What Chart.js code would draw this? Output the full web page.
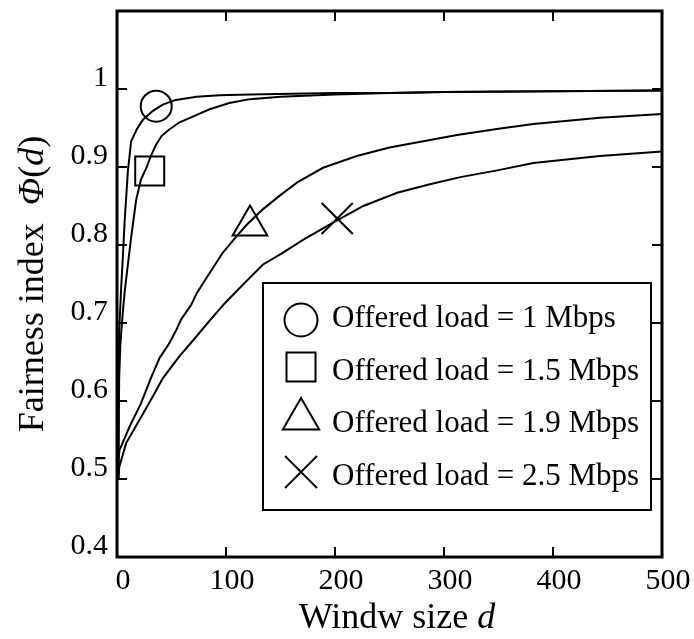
<!DOCTYPE html>
<html>
<head>
    <title>Fairness index vs window size</title>
    <script src="https://cdn.jsdelivr.net/npm/chart.js"></script>
    <style>
        body {
            margin: 0;
            background: #fff;
        }
        .chart-container {
            width: 694px;
            height: 639px;
        }
    </style>
</head>
<body>

    <div class="chart-container">
        <canvas id="fairnessChart" width="694" height="639"></canvas>
    </div>

    <script>
        // offered loads (Mbps), one curve each
        const loads = ['1', '1.5', '1.9', '2.5'];

        // window size d and fairness index for each load
        const d1 = [1, 1.5, 2, 3, 4, 5, 7, 10, 13, 18, 24, 33, 42, 54, 73, 94, 122, 160, 200, 250, 300, 400, 500];
        const phi1 = [0.5, 0.62, 0.69, 0.72, 0.75, 0.775, 0.83, 0.895, 0.933, 0.948, 0.961, 0.972, 0.98, 0.986, 0.99, 0.992, 0.993, 0.994, 0.995, 0.995, 0.996, 0.997, 0.998];

        const d15 = [1, 2, 3, 4, 5.3, 7, 10, 13, 17.6, 22, 27, 31, 36, 41, 48, 57, 70, 85, 103, 122, 150, 200, 250, 300, 400, 500];
        const phi15 = [0.5, 0.63, 0.67, 0.69, 0.713, 0.74, 0.775, 0.81, 0.858, 0.884, 0.899, 0.914, 0.929, 0.94, 0.948, 0.957, 0.965, 0.974, 0.982, 0.987, 0.99, 0.993, 0.995, 0.996, 0.997, 0.998];

        const d19 = [1, 2.3, 11.5, 22, 31, 39, 48, 54, 59, 68, 73, 85, 97, 109, 119, 134, 149, 165, 189, 220, 250, 281, 312, 350, 382, 443, 500];
        const phi19 = [0.52, 0.537, 0.567, 0.597, 0.629, 0.655, 0.674, 0.69, 0.705, 0.723, 0.738, 0.764, 0.79, 0.81, 0.826, 0.846, 0.863, 0.88, 0.899, 0.914, 0.925, 0.933, 0.941, 0.949, 0.955, 0.963, 0.968];

        const d25 = [1, 2, 8.4, 20.7, 33, 42, 57, 73, 85, 100, 119, 134, 152, 171, 195, 226, 257, 287, 315, 350, 382, 443, 500];
        const phi25 = [0.50, 0.515, 0.546, 0.576, 0.606, 0.629, 0.657, 0.683, 0.703, 0.727, 0.754, 0.775, 0.790, 0.807, 0.826, 0.850, 0.867, 0.878, 0.887, 0.896, 0.905, 0.914, 0.92];

        // one marker sits on each curve
        const markerD = [36, 30, 122, 202];
        const markerPhi = [0.978, 0.895, 0.825, 0.834];
        const markerStyles = ['circle', 'rect', 'triangle', 'crossRot'];
        const markerRadii = [15.5, 20.5, 20, 22];

        // tick values
        const xTicks = [0, 100, 200, 300, 400, 500];
        const yTicks = [0.4, 0.5, 0.6, 0.7, 0.8, 0.9, 1];

        const serif = "'Liberation Serif', 'Times New Roman', serif";

        const toPoints = (xs, ys) => xs.map((x, i) => ({ x: x, y: ys[i] }));
        const curves = [[d1, phi1], [d15, phi15], [d19, phi19], [d25, phi25]];

        const datasets = curves.map((c, i) => ({
            type: 'line',
            label: 'Offered load = ' + loads[i] + ' Mbps',
            data: toPoints(c[0], c[1]),
            borderColor: '#000',
            borderWidth: 2,
            pointRadius: 0,
            tension: 0
        }));

        markerD.forEach((d, i) => {
            datasets.push({
                type: 'scatter',
                label: 'marker ' + loads[i],
                data: [{ x: d, y: markerPhi[i] }],
                pointStyle: markerStyles[i],
                pointRadius: markerRadii[i],
                pointBorderColor: '#000',
                pointBackgroundColor: 'rgba(0,0,0,0)',
                pointBorderWidth: 2,
                clip: false
            });
        });

        // frame, inward ticks on all four sides, axis titles, legend box
        const decorations = {
            id: 'decorations',
            afterDatasetsDraw(chart) {
                const ctx = chart.ctx;
                const a = chart.chartArea;
                const xs = chart.scales.x;
                const ys = chart.scales.y;
                ctx.save();
                ctx.strokeStyle = '#000';

                ctx.lineWidth = 2;
                ctx.beginPath();
                xTicks.forEach(v => {
                    const px = xs.getPixelForValue(v);
                    ctx.moveTo(px, a.bottom); ctx.lineTo(px, a.bottom - 10);
                    ctx.moveTo(px, a.top); ctx.lineTo(px, a.top + 10);
                });
                yTicks.forEach(v => {
                    const py = ys.getPixelForValue(v);
                    ctx.moveTo(a.left, py); ctx.lineTo(a.left + 10, py);
                    ctx.moveTo(a.right, py); ctx.lineTo(a.right - 10, py);
                });
                ctx.stroke();

                ctx.lineWidth = 3;
                ctx.strokeRect(a.left, a.top, a.right - a.left, a.bottom - a.top);

                // x title
                ctx.fillStyle = '#000';
                ctx.textBaseline = 'alphabetic';
                ctx.textAlign = 'left';
                const xParts = [['Windw size ', 'normal'], ['d', 'italic']];
                drawParts(ctx, xParts, 397, 628);

                // y title
                ctx.save();
                ctx.translate(43, 284);
                ctx.rotate(-Math.PI / 2);
                const yParts = [['Fairness index  ', 'normal'], ['\u03A6', 'italic'], ['(', 'normal'], ['d', 'italic'], [')', 'normal']];
                drawParts(ctx, yParts, 0, 0);
                ctx.restore();

                // legend
                ctx.lineWidth = 2;
                ctx.strokeRect(263, 283, 388, 227);
                const rowY = [320, 367, 419, 472];
                const textY = [327, 380, 432, 485];
                ctx.font = '31px ' + serif;
                loads.forEach((l, i) => {
                    drawMarker(ctx, markerStyles[i], 301, rowY[i]);
                    ctx.fillText('Offered load = ' + l + ' Mbps', 332, textY[i]);
                });
                ctx.restore();
            }
        };

        function drawParts(ctx, parts, cx, y) {
            let total = 0;
            parts.forEach(p => {
                ctx.font = p[1] + ' 36px ' + serif;
                total += ctx.measureText(p[0]).width;
            });
            let x = cx - total / 2;
            parts.forEach(p => {
                ctx.font = p[1] + ' 36px ' + serif;
                ctx.fillText(p[0], x, y);
                x += ctx.measureText(p[0]).width;
            });
        }

        function drawMarker(ctx, style, x, y) {
            ctx.lineWidth = 2;
            ctx.beginPath();
            if (style === 'circle') {
                ctx.arc(x, y, 16.5, 0, Math.PI * 2);
            } else if (style === 'rect') {
                ctx.rect(x - 14.5, y - 14.5, 29, 29);
            } else if (style === 'triangle') {
                const r = 21;
                ctx.moveTo(x, y - r);
                ctx.lineTo(x + r * Math.sin(2 * Math.PI / 3), y + r / 2);
                ctx.lineTo(x - r * Math.sin(2 * Math.PI / 3), y + r / 2);
                ctx.closePath();
            } else {
                ctx.moveTo(x - 16, y - 16); ctx.lineTo(x + 16, y + 16);
                ctx.moveTo(x + 16, y - 16); ctx.lineTo(x - 16, y + 16);
            }
            ctx.stroke();
        }

        const ctx = document.getElementById('fairnessChart').getContext('2d');
        new Chart(ctx, {
            data: { datasets: datasets },
            options: {
                responsive: false,
                animation: false,
                events: [],
                layout: {
                    autoPadding: false,
                    padding: { top: 11, right: 32, left: 0, bottom: 0 }
                },
                plugins: {
                    legend: { display: false },
                    tooltip: { enabled: false },
                    title: { display: false }
                },
                scales: {
                    x: {
                        type: 'linear',
                        min: 0,
                        max: 500,
                        afterFit(scale) {
                            scale.height = 82;
                            scale.paddingLeft = 0;
                            scale.paddingRight = 0;
                        },
                        afterBuildTicks(scale) { scale.ticks = xTicks.map(v => ({ value: v })); },
                        grid: { display: false, drawTicks: false },
                        border: { display: false },
                        ticks: {
                            color: '#000',
                            padding: 6,
                            labelOffset: 6,
                            maxRotation: 0,
                            font: { family: serif, size: 30 },
                            callback: v => String(v)
                        }
                    },
                    y: {
                        type: 'linear',
                        min: 0.4,
                        max: 1.1,
                        afterFit(scale) {
                            scale.width = 117;
                            scale.paddingTop = 0;
                            scale.paddingBottom = 0;
                        },
                        afterBuildTicks(scale) { scale.ticks = yTicks.map(v => ({ value: v })); },
                        grid: { display: false, drawTicks: false },
                        border: { display: false },
                        ticks: {
                            color: '#000',
                            padding: 9,
                            labelOffset: -11,
                            font: { family: serif, size: 30 },
                            callback: v => String(Math.round(v * 10) / 10)
                        }
                    }
                }
            },
            plugins: [decorations]
        });
    </script>
</body>
</html>
